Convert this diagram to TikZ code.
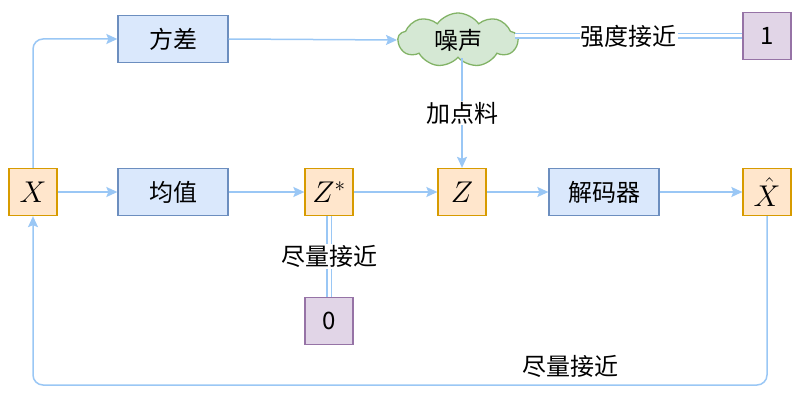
\RequirePackage{fix-cm}
\documentclass[tikz,border=0pt]{standalone}
\usepackage{fontspec}
\setmainfont{Noto Sans CJK SC}
\usepackage{tikz}
\usetikzlibrary{arrows.meta,shapes.symbols}
\usepackage{amsmath}

\definecolor{bluefill}{HTML}{DAE8FC}
\definecolor{bluedraw}{HTML}{6C8EBF}
\definecolor{orangefill}{HTML}{FFE6CC}
\definecolor{orangedraw}{HTML}{D79B00}
\definecolor{purplefill}{HTML}{E1D5E7}
\definecolor{purpledraw}{HTML}{9673A6}
\definecolor{greenfill}{HTML}{D5E8D4}
\definecolor{greendraw}{HTML}{82B366}
\definecolor{linkc}{HTML}{9AC7F5}

\tikzset{
  txt/.style={font=\fontsize{24}{28}\selectfont},
  block/.style={txt, draw=bluedraw, fill=bluefill, line width=1.3pt, minimum width=110pt, minimum height=47pt},
  var/.style={font=\fontsize{30}{34}\selectfont, draw=orangedraw, fill=orangefill, line width=1.3pt, minimum width=48pt, minimum height=47pt, inner sep=0pt},
  target/.style={txt, draw=purpledraw, fill=purplefill, line width=1.3pt, minimum width=48pt, minimum height=47pt, inner sep=0pt},
  link/.style={draw=linkc, line width=1.5pt, -{Stealth[length=11pt,width=10pt,inset=2pt]}},
  near/.style={draw=linkc, line width=1.5pt, double=white, double distance=3pt},
  lbl/.style={txt, fill=white, inner sep=1pt}
}

\begin{document}
\begin{tikzpicture}[x=1pt, y=-1pt]
    \useasboundingbox (0,0) rectangle (802,401);

    \node[var] (X) at (33,192) {$X$};
    \node[block] (mean) at (173,192) {均值};
    \node[block] (var) at (173,39) {方差};
    \node[var] (Zs) at (329,192) {$Z^*$};
    \node[var] (Z) at (462,192) {$Z$};
    \node[block] (dec) at (604,192) {解码器};
    \node[var] (Xh) at (767,192) {$\hat{X}$};
    \node[cloud, cloud puffs=9, cloud puff arc=110, aspect=2.3, draw=greendraw, fill=greenfill,
          line width=1.3pt, minimum width=120pt, minimum height=54pt, inner sep=0pt, txt] (noise) at (458,40) {噪声};
    \node[target] (one) at (767,36) {1};
    \node[target] (zero) at (329,321) {0};
    \coordinate (bot) at (0,385);

    \draw[link, rounded corners=10pt] (X.north) |- (var.west);
    \draw[link] (X) -- (mean);
    \draw[link] (mean) -- (Zs);
    \draw[link] (Zs) -- (Z);
    \draw[link] (Z) -- (dec);
    \draw[link] (dec) -- (Xh);
    \draw[link] (var.east) -- (noise.west);
    \draw[link] (noise.south -| Z.north) -- node[lbl] {加点料} (Z.north);
    \draw[near] ([xshift=-4pt]noise.east |- one.west) -- node[lbl] {强度接近} (one.west);
    \draw[near] (Zs.south) -- node[lbl] {尽量接近} (zero.north);
    \draw[link, rounded corners=10pt] (Xh.south) -- (Xh.south |- bot) -| (X.south);
    \node[txt] (recl) at (570,366) {尽量接近};
\end{tikzpicture}
\end{document}
